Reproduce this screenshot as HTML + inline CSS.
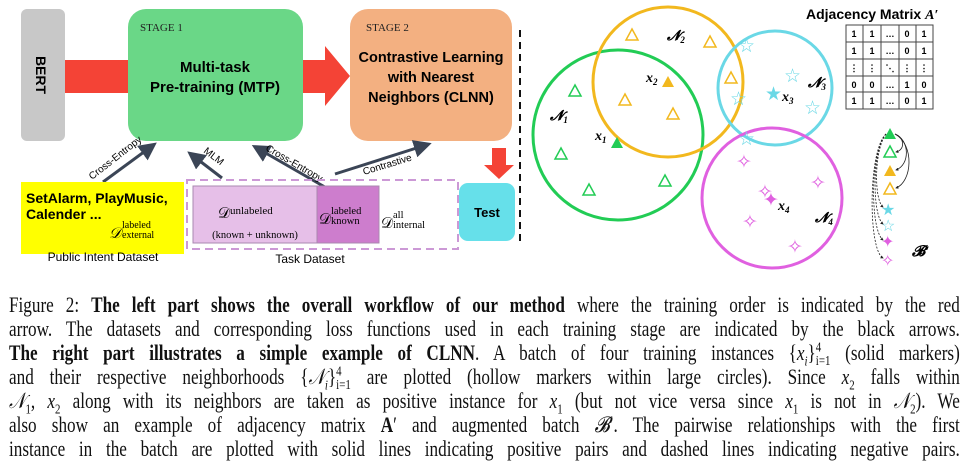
<!DOCTYPE html>
<html><head><meta charset="utf-8"><style>
body{margin:0;width:970px;height:468px;background:#fff;overflow:hidden;position:relative;font-family:"Liberation Sans",sans-serif}
.cap{position:absolute;left:9px;width:1219px;transform:scaleX(0.78);transform-origin:0 0;font-family:"Liberation Serif",serif;font-size:22px;line-height:24px;white-space:nowrap;text-align:justify;text-align-last:justify;color:#111}
.cap i{font-style:italic}
sub,sup{font-size:14px;line-height:0}
</style></head><body>
<svg width="970" height="290" style="position:absolute;left:0;top:0" font-family="Liberation Sans">
<defs><marker id="ah" markerWidth="6" markerHeight="6" refX="4" refY="3" orient="auto"><path d="M0,0L6,3L0,6z" fill="#3b4556"/></marker>
<marker id="sa" markerWidth="4" markerHeight="4" refX="3" refY="2" orient="auto"><path d="M0,0L4,2L0,4z" fill="#222"/></marker></defs>
<rect x="65" y="60" width="64" height="33" fill="#f44336"/>
<polygon points="303,60 325,60 325,46 350,76 325,106 325,93 303,93" fill="#f44336"/>
<polygon points="492,148 506,148 506,165 514,165 499,179 484,165 492,165" fill="#f44336"/>
<rect x="21" y="9" width="44" height="132" rx="6" fill="#c8c8c8"/>
<text x="36" y="75" font-weight="bold" font-size="14" transform="rotate(90 36 75)" text-anchor="middle">BERT</text>
<rect x="128" y="9" width="175" height="132" rx="18" fill="#6ad787"/>
<text x="140" y="31" font-size="11" fill="#222" font-family="Liberation Serif">STAGE 1</text>
<text x="215" y="72" font-size="15" font-weight="bold" text-anchor="middle">Multi-task</text>
<text x="215" y="92" font-size="15" font-weight="bold" text-anchor="middle">Pre-training (MTP)</text>
<rect x="350" y="9" width="162" height="132" rx="18" fill="#f3b081"/>
<text x="366" y="31" font-size="11" fill="#222" font-family="Liberation Serif">STAGE 2</text>
<text x="431" y="62" font-size="14.5" font-weight="bold" text-anchor="middle">Contrastive Learning</text>
<text x="431" y="82" font-size="14.5" font-weight="bold" text-anchor="middle">with Nearest</text>
<text x="431" y="102" font-size="14.5" font-weight="bold" text-anchor="middle">Neighbors (CLNN)</text>
<line x1="520" y1="30" x2="520" y2="245" stroke="#111" stroke-width="2" stroke-dasharray="7,5"/>
<g stroke="#3b4556" stroke-width="3" marker-end="url(#ah)">
<line x1="103" y1="182" x2="152" y2="146"/>
<line x1="222" y1="178" x2="192" y2="155"/>
<line x1="330" y1="190" x2="257" y2="148"/>
<line x1="335" y1="174" x2="426" y2="145"/>
</g>
<text x="0" y="0" font-size="10" transform="translate(92,180) rotate(-38)">Cross-Entropy</text>
<text x="0" y="0" font-size="10" transform="translate(203,152) rotate(38)">MLM</text>
<text x="0" y="0" font-size="10" transform="translate(265,150) rotate(30)">Cross-Entropy</text>
<text x="0" y="0" font-size="10" transform="translate(364,175) rotate(-17)">Contrastive</text>
<rect x="21" y="182" width="163" height="72" fill="#ffff00"/>
<text x="26" y="203" font-size="14" font-weight="bold">SetAlarm, PlayMusic,</text>
<text x="26" y="219" font-size="14" font-weight="bold">Calender  ...</text>
<text x="109" y="238" font-size="15" font-style="italic" font-family="Liberation Serif">𝒟</text>
<text x="122" y="228" font-size="10" font-family="Liberation Serif">labeled</text>
<text x="122" y="238" font-size="10" font-family="Liberation Serif">external</text>
<text x="103" y="261" font-size="12" text-anchor="middle">Public Intent Dataset</text>
<rect x="187" y="180" width="271" height="69" fill="none" stroke="#cc99d6" stroke-width="2" stroke-dasharray="8,5"/>
<rect x="193" y="186" width="124" height="57" fill="#e6bfe8" stroke="#aa88b0"/>
<rect x="317" y="186" width="62" height="57" fill="#cd7dcd" stroke="#aa88b0"/>
<text x="218" y="218" font-size="15" font-family="Liberation Serif">𝒟</text>
<text x="230" y="214" font-size="11" font-family="Liberation Serif">unlabeled</text>
<text x="255" y="238" font-size="10.5" text-anchor="middle" font-family="Liberation Serif">(known + unknown)</text>
<text x="319" y="224" font-size="15" font-family="Liberation Serif">𝒟</text>
<text x="331" y="214" font-size="10.5" font-family="Liberation Serif">labeled</text>
<text x="331" y="224" font-size="10.5" font-family="Liberation Serif">known</text>
<text x="381" y="228" font-size="15" font-family="Liberation Serif">𝒟</text>
<text x="393" y="218" font-size="10.5" font-family="Liberation Serif">all</text>
<text x="393" y="228" font-size="10.5" font-family="Liberation Serif">internal</text>
<text x="310" y="263" font-size="12" text-anchor="middle">Task Dataset</text>
<rect x="459" y="183" width="56" height="58" rx="9" fill="#66e0ea"/>
<text x="487" y="217" font-size="13" font-weight="bold" text-anchor="middle">Test</text>
<g fill="none" stroke-width="3">
<circle cx="618" cy="135" r="85" stroke="#22cc55"/>
<circle cx="668" cy="82" r="75" stroke="#f2b81e"/>
<circle cx="775" cy="88" r="57" stroke="#6ad8e6"/>
<circle cx="772" cy="198" r="70" stroke="#e060e0"/>
</g>
<g font-family="Liberation Serif" font-style="italic" font-weight="bold" font-size="14">
<text x="667" y="40">𝓝<tspan font-size="9" dy="3">2</tspan></text>
<text x="550" y="120">𝓝<tspan font-size="9" dy="3">1</tspan></text>
<text x="808" y="87">𝓝<tspan font-size="9" dy="3">3</tspan></text>
<text x="815" y="222">𝓝<tspan font-size="9" dy="3">4</tspan></text>
<text x="646" y="82">x<tspan font-size="9" dy="3">2</tspan></text>
<text x="595" y="140">x<tspan font-size="9" dy="3">1</tspan></text>
<text x="782" y="101">x<tspan font-size="9" dy="3">3</tspan></text>
<text x="778" y="210">x<tspan font-size="9" dy="3">4</tspan></text>
</g>
<g fill="none" stroke-width="1.5" stroke="#f2b81e">
<path d="M632,29l-6,11h12z"/><path d="M710,36l-6,11h12z"/><path d="M625,94l-6,11h12z"/><path d="M673,108l-6,11h12z"/><path d="M731,72l-6,11h12z"/>
</g>
<path d="M668,76l-6,11h12z" fill="#f2b81e"/>
<g fill="none" stroke-width="1.5" stroke="#22cc55">
<path d="M575,85l-6,11h12z"/><path d="M561,148l-6,11h12z"/><path d="M589,184l-6,11h12z"/><path d="M665,175l-6,11h12z"/>
</g>
<path d="M617,137l-6,11h12z" fill="#22cc55"/>
<g font-size="19" fill="#6ad8e6"><text x="738" y="52">☆</text><text x="784" y="82">☆</text><text x="730" y="105">☆</text><text x="804" y="114">☆</text><text x="738" y="145">☆</text><text x="765" y="100">★</text></g>
<g font-size="19" fill="#e060e0"><text x="736" y="168">✧</text><text x="810" y="189">✧</text><text x="757" y="198">✧</text><text x="742" y="228">✧</text><text x="787" y="253">✧</text><text x="763" y="206">✦</text></g>
<text x="806" y="19" font-size="14" font-weight="bold">Adjacency Matrix <tspan font-family="Liberation Serif" font-style="italic">A′</tspan></text>
<g stroke="#444" stroke-width="1"><rect x="846" y="25" width="87" height="84" fill="none"/>
<line x1="863" y1="25" x2="863" y2="109"/><line x1="881" y1="25" x2="881" y2="109"/><line x1="899" y1="25" x2="899" y2="109"/><line x1="916" y1="25" x2="916" y2="109"/>
<line x1="846" y1="42" x2="933" y2="42"/><line x1="846" y1="59" x2="933" y2="59"/><line x1="846" y1="76" x2="933" y2="76"/><line x1="846" y1="92" x2="933" y2="92"/></g>
<g font-size="9" font-weight="bold" text-anchor="middle">
<text x="854" y="37">1</text><text x="872" y="37">1</text><text x="890" y="37">…</text><text x="907" y="37">0</text><text x="924" y="37">1</text>
<text x="854" y="54">1</text><text x="872" y="54">1</text><text x="890" y="54">…</text><text x="907" y="54">0</text><text x="924" y="54">1</text>
<text x="854" y="71">⋮</text><text x="872" y="71">⋮</text><text x="890" y="71">⋱</text><text x="907" y="71">⋮</text><text x="924" y="71">⋮</text>
<text x="854" y="88">0</text><text x="872" y="88">0</text><text x="890" y="88">…</text><text x="907" y="88">1</text><text x="924" y="88">0</text>
<text x="854" y="104">1</text><text x="872" y="104">1</text><text x="890" y="104">…</text><text x="907" y="104">0</text><text x="924" y="104">1</text></g>
<path d="M890,128l-6,11h12z" fill="#22cc55"/>
<path d="M890,146l-6,11h12z" fill="none" stroke="#22cc55" stroke-width="1.5"/>
<path d="M890,165l-6,11h12z" fill="#f2b81e"/>
<path d="M890,183l-6,11h12z" fill="none" stroke="#f2b81e" stroke-width="1.5"/>
<text x="881" y="215" font-size="16" fill="#6ad8e6">★</text>
<text x="881" y="231" font-size="16" fill="#6ad8e6">☆</text>
<text x="881" y="247" font-size="16" fill="#e060e0">✦</text>
<text x="881" y="266" font-size="16" fill="#e060e0">✧</text>
<g fill="none" stroke="#222" stroke-width="0.8">
<path d="M895,134C905,138 905,150 896,152" marker-end="url(#sa)"/>
<path d="M895,134C910,140 910,165 896,170" marker-end="url(#sa)"/>
<path d="M895,134C915,145 912,182 896,188" marker-end="url(#sa)"/>
<g stroke-dasharray="2,1.5"><path d="M886,134C874,150 874,200 883,207" marker-end="url(#sa)"/>
<path d="M886,134C872,150 872,215 883,224" marker-end="url(#sa)"/>
<path d="M886,134C870,150 870,230 883,240" marker-end="url(#sa)"/>
<path d="M886,134C868,150 868,250 883,258" marker-end="url(#sa)"/></g></g>
<text x="912" y="256" font-size="15" font-weight="bold" font-style="italic" font-family="Liberation Serif">𝓑′</text>
</svg>
<div class="cap" style="top:293px">Figure 2: <b>The left part shows the overall workflow of our method</b> where the training order is indicated by the red</div>
<div class="cap" style="top:317px">arrow. The datasets and corresponding loss functions used in each training stage are indicated by the black arrows.</div>
<div class="cap" style="top:341px"><b>The right part illustrates a simple example of CLNN</b>. A batch of four training instances {<i>x<sub>i</sub></i>}<sup>4</sup><sub style="margin-left:-7px">i=1</sub> (solid markers)</div>
<div class="cap" style="top:365px">and their respective neighborhoods {<i>𝒩<sub>i</sub></i>}<sup>4</sup><sub style="margin-left:-7px">i=1</sub> are plotted (hollow markers within large circles). Since <i>x</i><sub>2</sub> falls within</div>
<div class="cap" style="top:389px"><i>𝒩</i><sub>1</sub>, <i>x</i><sub>2</sub> along with its neighbors are taken as positive instance for <i>x</i><sub>1</sub> (but not vice versa since <i>x</i><sub>1</sub> is not in <i>𝒩</i><sub>2</sub>). We</div>
<div class="cap" style="top:413px">also show an example of adjacency matrix <b>A</b>′ and augmented batch <i>𝓑</i>′. The pairwise relationships with the first</div>
<div class="cap" style="top:437px">instance in the batch are plotted with solid lines indicating positive pairs and dashed lines indicating negative pairs.</div>
</body></html>
